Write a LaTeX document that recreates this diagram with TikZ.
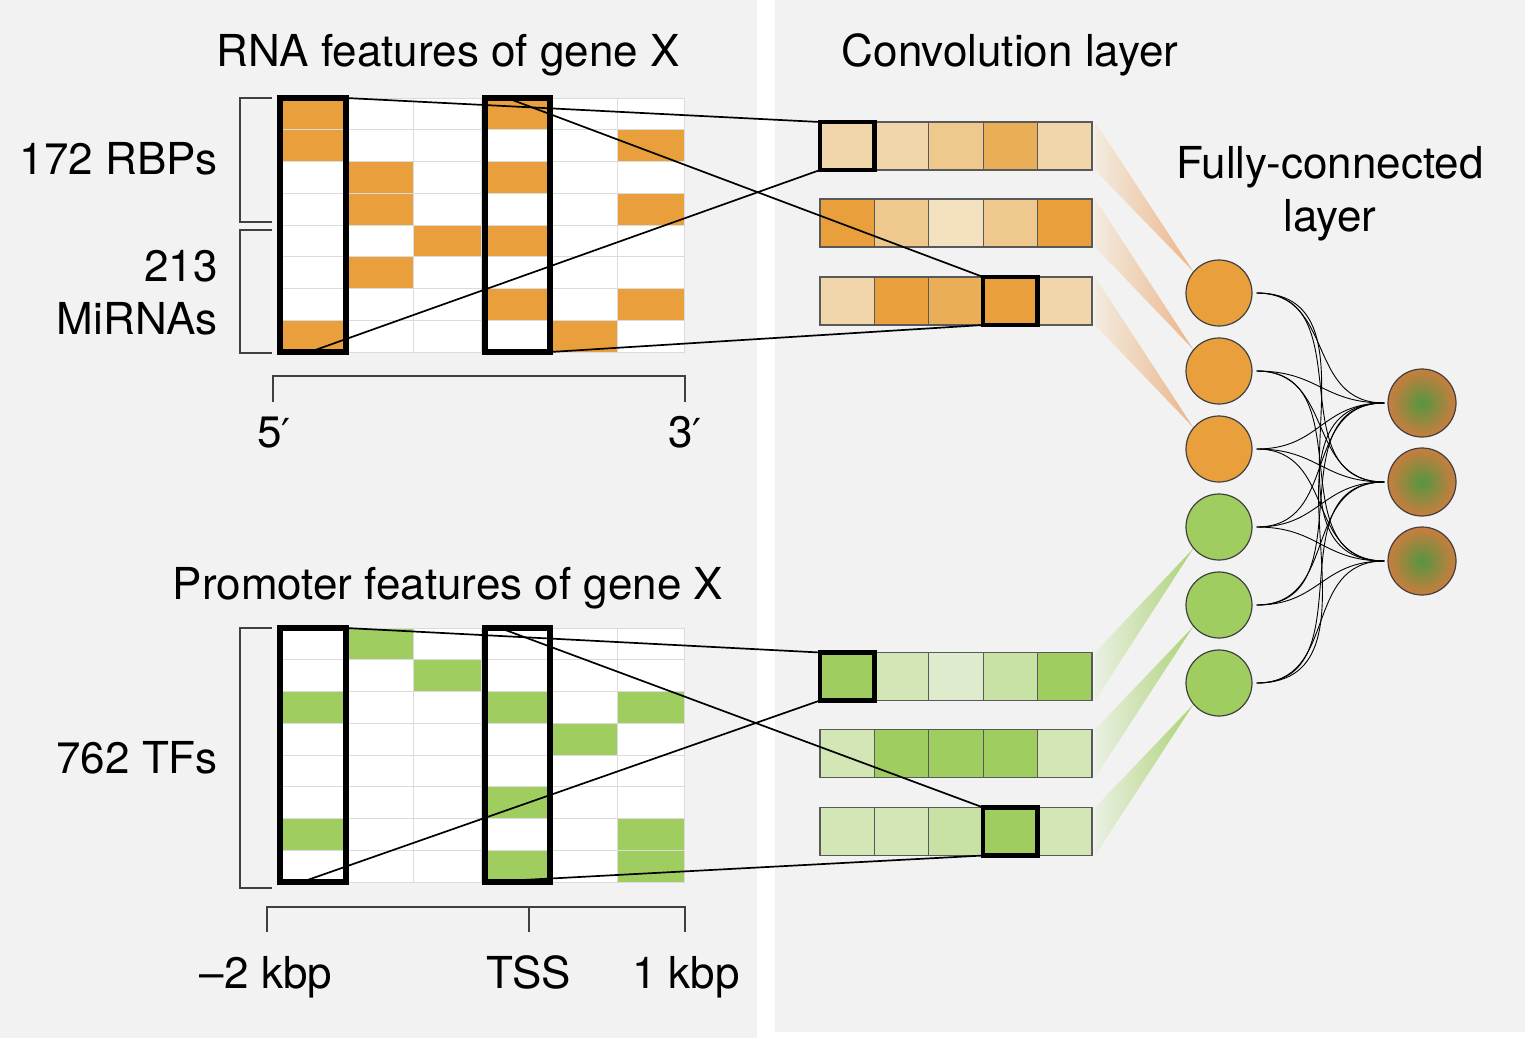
\documentclass[tikz,border=0pt]{standalone}
\usepackage{fontspec}
\setmainfont{TeX Gyre Heros}
\newfontfamily\primefont{DejaVu Sans}
\usetikzlibrary{positioning,calc,backgrounds}
\definecolor{panel}{RGB}{242,242,242}
\definecolor{orngO}{RGB}{233,160,60}
\definecolor{orngD}{RGB}{235,174,88}
\definecolor{orngM}{RGB}{238,200,140}
\definecolor{orngL}{RGB}{240,214,170}
\definecolor{orngXL}{RGB}{243,225,192}
\definecolor{peach}{RGB}{234,170,120}
\definecolor{grnO}{RGB}{160,205,95}
\definecolor{grnM}{RGB}{200,225,165}
\definecolor{grnL}{RGB}{210,230,182}
\definecolor{grnXL}{RGB}{222,236,205}
\definecolor{outin}{RGB}{85,150,65}
\definecolor{outout}{RGB}{202,125,62}
\tikzset{
  ttl/.style={font=\fontsize{44}{50}\selectfont,inner sep=0pt},
  gridln/.style={draw=black!14,line width=1pt},
  selbox/.style={draw=black,line width=6pt,inner sep=0pt,outer sep=0pt,
    minimum width=66pt,minimum height=254pt},
  cell/.style={draw=black!65,line width=1.2pt,inner sep=0pt,outer sep=0pt,
    minimum width=54.4pt,minimum height=48pt},
  hot/.style={draw=black,line width=4.5pt},
  ln/.style={draw=black,line width=1.7pt},
  brk/.style={draw=black!75,line width=1.4pt},
  neur/.style={circle,draw=black!75,line width=1.2pt,inner sep=0pt,minimum size=66pt},
  wire/.style={draw=black,line width=0.9pt},
}
\newcommand\prm{{\primefont\fontsize{40}{46}\selectfont ′}}
\begin{document}
\begin{tikzpicture}[x=1pt,y=-1pt]
\useasboundingbox (0,0) rectangle (1532,1042);
% titles
\node[ttl,anchor=base] (tRNA) at (448,66) {RNA features of gene X};
\node[ttl,anchor=base] (tConv) at (1010,66) {Convolution layer};
\node[ttl,anchor=base] (tFC) at (1330,178) {Fully-connected};
\node[ttl,anchor=base] (tFCb) at (1330,231) {layer};
\node[ttl,anchor=base] (tProm) at (448,599) {Promoter features of gene X};
% side labels
\node[ttl,anchor=base east] (tRBP) at (218,174) {172 RBPs};
\node[ttl,anchor=base east] (tMi) at (218,281) {213};
\node[ttl,anchor=base east] (tMib) at (218,334) {MiRNAs};
\node[ttl,anchor=base east] (tTF) at (218,773) {762 TFs};
\node[ttl,anchor=base west] (t5) at (257,447) {5\prm};
\node[ttl,anchor=base west] (t3) at (668,447) {3\prm};
\node[ttl,anchor=base] (tkb1) at (266,988) {\textendash2 kbp};
\node[ttl,anchor=base] (tTSS) at (529,988) {TSS};
\node[ttl,anchor=base] (tkb2) at (686,988) {1 kbp};
% RNA grid
\fill[white] (278,98) rectangle (685,352);
\foreach \cx/\ry in {1/1,1/2,1/8,2/3,2/4,2/6,3/5,4/1,4/3,4/5,4/7,5/8,6/2,6/4,6/7}
  \fill[orngO] ({278+(\cx-1)*67.83},{98+(\ry-1)*31.75}) rectangle ++(67.83,31.75);
\foreach \i in {0,...,6} \draw[gridln] ({278+\i*67.83},98) -- ({278+\i*67.83},352);
\foreach \i in {0,...,8} \draw[gridln] (278,{98+\i*31.75}) -- (685,{98+\i*31.75});
\node[selbox] (rbox1) at (313,225) {};
\node[selbox,minimum width=65pt] (rbox2) at (517.5,225) {};
% promoter grid
\fill[white] (278,628) rectangle (685,882);
\foreach \cx/\ry in {1/3,1/7,2/1,3/2,4/3,4/6,4/8,5/4,6/3,6/7,6/8}
  \fill[grnO] ({278+(\cx-1)*67.83},{628+(\ry-1)*31.75}) rectangle ++(67.83,31.75);
\foreach \i in {0,...,6} \draw[gridln] ({278+\i*67.83},628) -- ({278+\i*67.83},882);
\foreach \i in {0,...,8} \draw[gridln] (278,{628+\i*31.75}) -- (685,{628+\i*31.75});
\node[selbox] (gbox1) at (313,755) {};
\node[selbox,minimum width=65pt] (gbox2) at (517.5,755) {};
% brackets and scales
\draw[brk] (272,98) -- (240,98) -- (240,222) -- (272,222);
\draw[brk] (272,230) -- (240,230) -- (240,353) -- (272,353);
\draw[brk] (272,628) -- (240,628) -- (240,888) -- (272,888);
\draw[brk] (273,402) -- (273,376) -- (685,376) -- (685,402);
\draw[brk] (267,932) -- (267,907) -- (685,907) -- (685,932);
\draw[brk] (529,907) -- (529,932);
% convolution layers
\foreach \ry/\yy/\cols in {1/146/{orngL,orngL,orngM,orngD,orngL},
    2/223/{orngO,orngM,orngXL,orngM,orngO},3/301/{orngL,orngO,orngD,orngO,orngL}}
  \foreach \clr [count=\cx] in \cols
    \node[cell,fill=\clr] (rc\ry\cx) at ({820+(\cx-0.5)*54.4},\yy) {};
\foreach \ry/\yy/\cols in {1/676.5/{grnO,grnL,grnXL,grnM,grnO},
    2/753.5/{grnL,grnO,grnO,grnO,grnL},3/831.5/{grnL,grnL,grnM,grnO,grnL}}
  \foreach \clr [count=\cx] in \cols
    \node[cell,fill=\clr] (gc\ry\cx) at ({820+(\cx-0.5)*54.4},\yy) {};
\foreach \n in {rc11,rc34,gc11,gc34}
  \draw[hot] (\n.north west) rectangle (\n.south east);
% receptive fields
\draw[ln] (rbox1.north east) -- (rc11.north west);
\draw[ln] ($(rbox1.south west)!0.45!(rbox1.south east)$) -- (rc11.south west);
\draw[ln] ($(rbox2.north west)!0.34!(rbox2.north east)$) -- (rc34.north west);
\draw[ln] (rbox2.south east) -- (rc34.south west);
\draw[ln] (gbox1.north east) -- (gc11.north west);
\draw[ln] ($(gbox1.south west)!0.33!(gbox1.south east)$) -- (gc11.south west);
\draw[ln] ($(gbox2.north west)!0.23!(gbox2.north east)$) -- (gc34.north west);
\draw[ln] (gbox2.south west) -- (gc34.south west);
% fully-connected layer
\foreach \i in {1,2,3}
  \node[neur,fill=orngO] (f\i) at (1219,{293+(\i-1)*78}) {};
\foreach \i in {4,5,6}
  \node[neur,fill=grnO] (f\i) at (1219,{293+(\i-1)*78}) {};
\foreach \j/\yy in {1/403,2/482,3/561}
  \node[neur,minimum size=68pt,inner color=outin,outer color=outout] (o\j) at (1422,\yy) {};
\foreach \i in {1,...,6}
  \foreach \j in {1,2,3}
    \draw[wire] ([xshift=4pt]f\i.east) to[out=0,in=180,looseness=1.2] ([xshift=-3pt]o\j.west);
\begin{scope}[on background layer]
\fill[panel] (0,0) rectangle (757,1038);
\fill[panel] (775,0) rectangle (1525,1032);
\foreach \i in {1,2,3}
  \shade[left color=orngXL!40!panel,right color=peach!85!panel]
    ([xshift=3pt]rc\i5.north east) -- ([xshift=3pt]rc\i5.south east) -- (f\i.140) -- cycle;
\foreach \i/\j in {1/4,2/5,3/6}
  \shade[left color=grnXL!40!panel,right color=grnO!85!panel]
    ([xshift=3pt]gc\i5.north east) -- ([xshift=3pt]gc\i5.south east) -- (f\j.220) -- cycle;
\end{scope}
\end{tikzpicture}
\end{document}
